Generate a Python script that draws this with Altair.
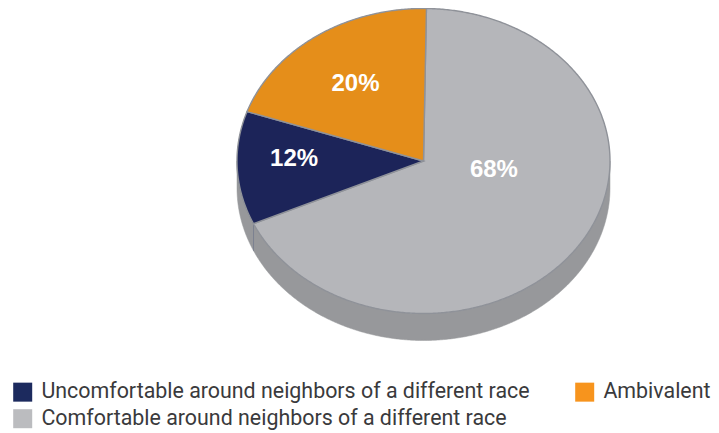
import numpy as np
import altair as alt

categories = ["Comfortable around neighbors of a different race",
              "Uncomfortable around neighbors of a different race",
              "Ambivalent"]
values = [68, 12, 20]
labels = ["68%", "12%", "20%"]
pie_colors = ["#B5B6BA", "#1C2459", "#E58E1A"]
legend_order = [categories[1], categories[0], categories[2]]
legend_colors = ["#1C2A5E", "#BBBCBF", "#F7941D"]
label_nudges = [(-27, -43), (-13, -6), (-1, 1)]

RX, RY, DEPTH = 186.5, 152.5, 27
START = 0.9
CX, CY = 415.5, 153.0


def rim(t0, t1, dy=0.0):
    ts = np.radians(np.linspace(t0, t1, max(int(abs(t1 - t0)) * 2, 2)))
    return [[float(RX * np.sin(t)), float(-RY * np.cos(t) + dy)] for t in ts]


def feature(geom_type, coords, **props):
    return {"type": "Feature", "geometry": {"type": geom_type, "coordinates": coords}, "properties": props}


edges = START + np.concatenate([[0], np.cumsum(values)]) * 3.6
wedges, anchors = [], []
for i, name in enumerate(categories):
    ring = [[0.0, 0.0]] + rim(edges[i], edges[i + 1]) + [[0.0, 0.0]]
    wedges.append(feature("Polygon", [ring], name=name))
    mid = np.radians((edges[i] + edges[i + 1]) / 2)
    anchors.append((float(0.625 * RX * np.sin(mid)), float(-0.625 * RY * np.cos(mid))))

wall_ring = rim(90, 270) + rim(270, 90, DEPTH)
wall_ring.append(wall_ring[0])
wall = feature("Polygon", [wall_ring])
seams = [feature("LineString", [rim(e, e + 0.01)[0], rim(e, e + 0.01, DEPTH)[0]]) for e in [edges[1]]]

projection = dict(type="identity", scale=1, translate=[CX, CY])
name_field = "properties.name:N"

wall_layer = alt.Chart(alt.Data(values=[wall])).mark_geoshape(fill="#97989B", stroke="#97989B", strokeWidth=0.5).project(**projection)
seam_layer = alt.Chart(alt.Data(values=seams)).mark_geoshape(filled=False, stroke="#7C8290", strokeWidth=1).project(**projection)

legend_layer = alt.Chart(alt.Data(values=wedges)).mark_geoshape().encode(
    color=alt.Color(name_field,
                    scale=alt.Scale(domain=legend_order, range=legend_colors),
                    legend=alt.Legend(title=None, orient="none", legendX=4, legendY=373,
                                      direction="vertical", columns=2, columnPadding=44,
                                      rowPadding=4, symbolType="square", symbolSize=361,
                                      symbolStrokeWidth=0, symbolOpacity=1, labelOffset=8,
                                      labelFont="Roboto", labelFontSize=21.4,
                                      labelColor="#3A3A3C", labelLimit=600, padding=0))
).project(**projection)

pie_layer = alt.Chart(alt.Data(values=wedges)).mark_geoshape(stroke="#8F9299", strokeWidth=1.4).encode(
    color=alt.Color(name_field, scale=alt.Scale(domain=categories, range=pie_colors), legend=None)
).project(**projection)

text_layers = []
for lab, (x, y), (ndx, ndy) in zip(labels, anchors, label_nudges):
    text_layers.append(
        alt.Chart(alt.Data(values=[{"lon": x, "lat": y, "label": lab}]))
        .mark_text(font="Liberation Sans", fontWeight="bold", fontSize=24, color="white",
                   dx=ndx, dy=ndy, align="center", baseline="middle")
        .encode(longitude="lon:Q", latitude="lat:Q", text="label:N")
        .project(**projection)
    )

chart = alt.layer(wall_layer, seam_layer, legend_layer, pie_layer, *text_layers).resolve_scale(
    color="independent"
).properties(width=703, height=424, padding=0, autosize=alt.AutoSizeParams(type="none")).configure_view(stroke=None)

chart.save("out.html", embed_options={"renderer": "svg", "actions": False})
